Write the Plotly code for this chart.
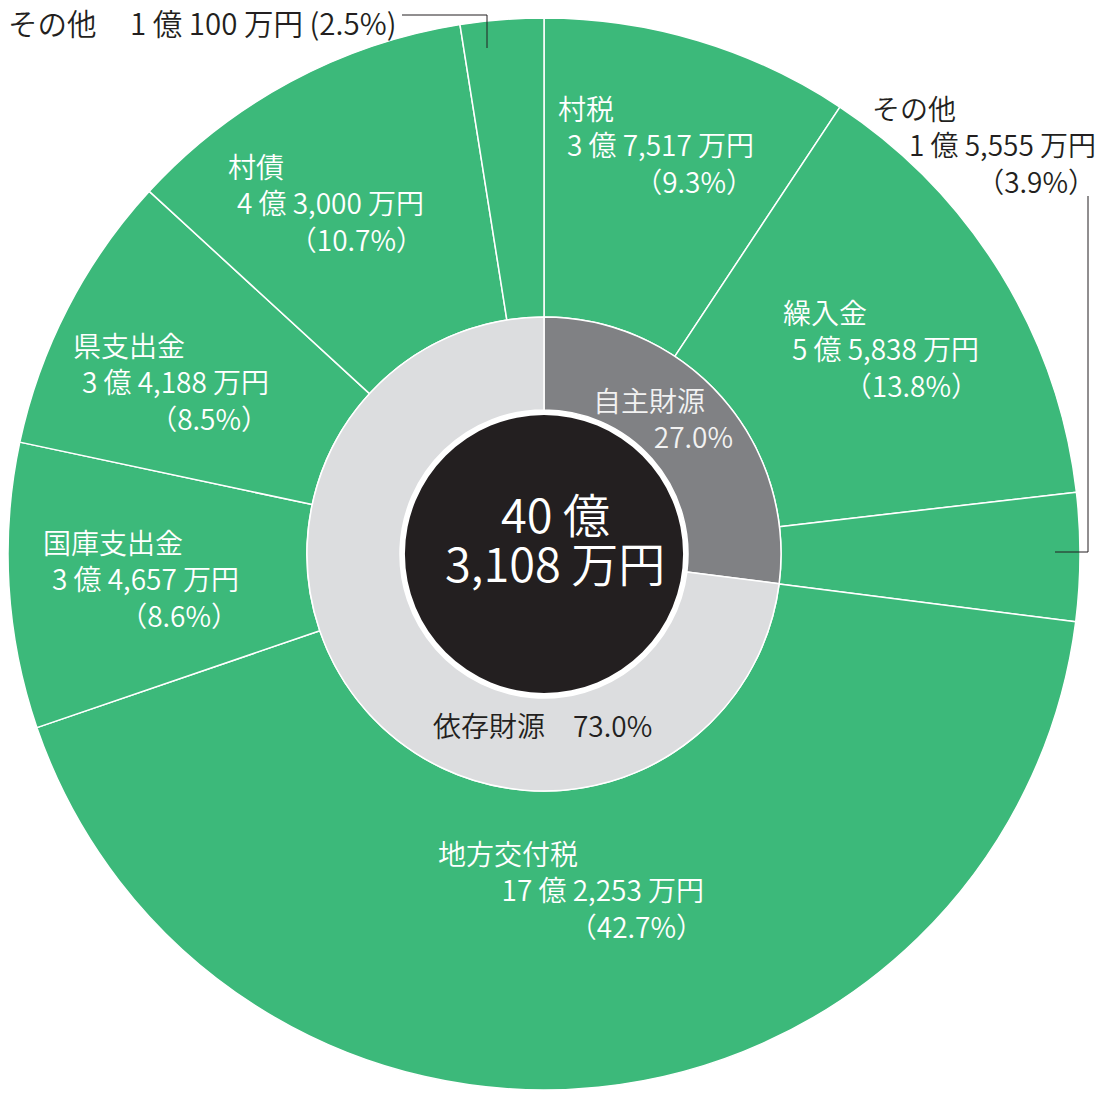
import plotly.graph_objects as go

W, H = 1100, 1093

# ---- data ----
outer_labels = ["村税", "繰入金", "その他", "地方交付税", "国庫支出金", "県支出金", "村債", "その他"]
outer_values = [37517, 55838, 15555, 172253, 34657, 34188, 43000, 10100]  # 万円
outer_pct = ["9.3%", "13.8%", "3.9%", "42.7%", "8.6%", "8.5%", "10.7%", "2.5%"]
outer_amount = ["3 億 7,517 万円", "5 億 5,838 万円", "1 億 5,555 万円", "17 億 2,253 万円",
                "3 億 4,657 万円", "3 億 4,188 万円", "4 億 3,000 万円", "1 億 100 万円"]
inner_labels = ["自主財源", "依存財源"]
inner_values = [27.0, 73.0]
total_text = ["40 億", "3,108 万円"]

GREEN = "#3cb97a"
FONT = "Noto Sans CJK JP"
FS = 28

def px(x):
    return x / W

def py(y):
    return 1 - y / H

def clamp(v):
    return min(1.0, max(0.0, v))

def dom(cx, cy, r):
    return dict(x=[clamp(px(cx - r)), clamp(px(cx + r))],
                y=[clamp(py(cy + r)), clamp(py(cy - r))])

CX, CY = 544, 554
R_OUT, R_IN, R_HOLE, R_CORE = 536, 237, 144, 139

fig = go.Figure()
fig.add_trace(go.Pie(
    values=outer_values, labels=[f"{l}{i}" for i, l in enumerate(outer_labels)],
    sort=False, direction="clockwise", rotation=0, hole=R_IN / R_OUT,
    marker=dict(colors=[GREEN] * len(outer_values), line=dict(color="white", width=1.5)),
    textinfo="none", hoverinfo="skip", domain=dom(CX, CY, R_OUT), showlegend=False,
))
fig.add_trace(go.Pie(
    values=inner_values, labels=inner_labels,
    sort=False, direction="clockwise", rotation=0, hole=R_HOLE / R_IN,
    marker=dict(colors=["#808184", "#dcdddf"], line=dict(color="white", width=1.5)),
    textinfo="none", hoverinfo="skip", domain=dom(CX, CY, R_IN), showlegend=False,
))
fig.add_trace(go.Pie(
    values=[1], labels=["total"], sort=False,
    marker=dict(colors=["#231f20"], line=dict(width=0)),
    textinfo="none", hoverinfo="skip", domain=dom(CX, CY, R_CORE), showlegend=False,
))

anns = []

def txt(s, x, y, anchor="left", color="white", size=FS, align="left"):
    anns.append(dict(text=s, x=px(x), y=py(y), xref="paper", yref="paper",
                     xanchor=anchor, yanchor="middle", showarrow=False, align=align,
                     font=dict(family=FONT, size=size, color=color, weight=350)))

FW = "\u3000"   # full-width (1em) space
EN = "\u2002"   # en space (0.5em)

def block(i, pad, xr, ymid, color="white"):
    """three-line label: name (indented to the left), amount, (pct) -- right aligned"""
    s = f"{outer_labels[i]}{pad}<br>{outer_amount[i]}<br>（{outer_pct[i]}）"
    txt(s, xr, ymid, "right", color=color, align="right")

block(0, FW * 5, 756, 145)                       # 村税
block(2, FW * 5, 1098, 145, color="#231f20")     # その他 (right, outside)
block(1, FW * 4, 981, 348)                       # 繰入金
block(6, FW * 5, 426, 202)                       # 村債
block(5, FW * 3, 271, 381)                       # 県支出金
block(4, FW * 2, 241, 578)                       # 国庫支出金
block(3, FW * 4 + EN, 706, 889)                  # 地方交付税

# その他 (top-left, outside)
txt(outer_labels[7], 6, 22, color="#231f20", size=29.5)
txt(f"{outer_amount[7]} ({outer_pct[7]})", 128, 22, color="#231f20", size=29.5)
# inner ring
txt(f"{inner_labels[0]}{FW}<br>{inner_values[0]:.1f}%", 735, 418, "right",
    color="#f2f2f2", align="right")
txt(f"{inner_labels[1]}{FW}{inner_values[1]:.1f}%", 431, 725, color="#231f20")
# center
txt(total_text[0], 555, 512, "center", size=47)
txt(total_text[1], 555, 561, "center", size=47)

# leader lines
LC = "#231f20"
def seg(x0, y0, x1, y1):
    return dict(type="line", xref="paper", yref="paper", x0=px(x0), y0=py(y0),
                x1=px(x1), y1=py(y1), line=dict(color=LC, width=1))

shapes = [seg(402, 15, 487, 15), seg(487, 15, 487, 48),
          seg(1088, 196, 1088, 552), seg(1055, 552, 1088, 552)]

fig.update_layout(
    width=W, height=H, margin=dict(l=0, r=0, t=0, b=0),
    paper_bgcolor="white", plot_bgcolor="white",
    annotations=anns, shapes=shapes, showlegend=False,
)
fig.write_html("out.html", config={"displayModeBar": False},
               post_script="document.body.style.margin='0';document.body.style.overflow='hidden';")
